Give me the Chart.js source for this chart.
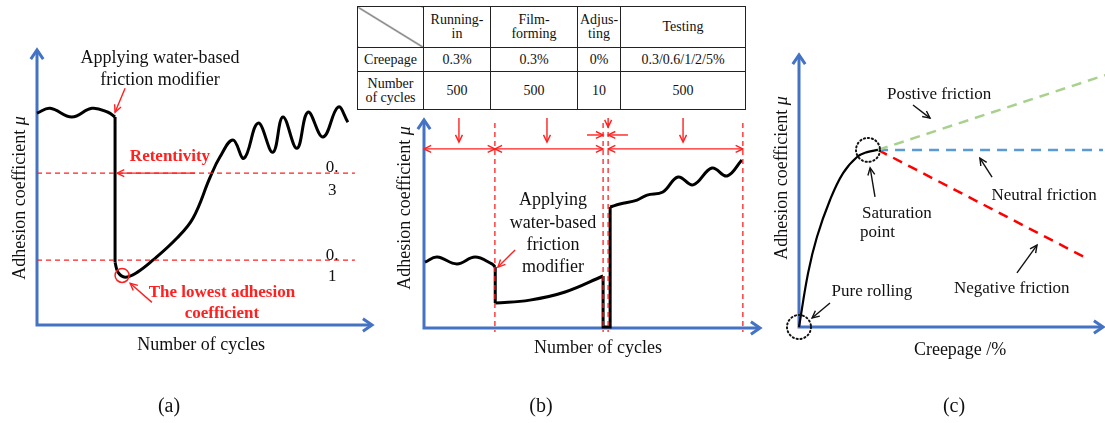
<!DOCTYPE html>
<html>
<head>
<meta charset="utf-8">
<script src="https://cdn.jsdelivr.net/npm/chart.js@4"></script>
<style>
  body { margin: 0; background: #fff; }
  #page { position: relative; width: 1105px; height: 423px; overflow: hidden; font-family: "Liberation Serif", serif; }
  canvas { position: absolute; top: 0; }
  #phaseTable { position: absolute; left: 357px; top: 6px; width: 388px; table-layout: fixed;
    border-collapse: collapse; z-index: 2; background: #fff; color: #111; }
  #phaseTable td { border: 1px solid #222; text-align: center; padding: 0; line-height: 14px;
    font-family: "Liberation Serif", serif; font-size: 14px; }
  #phaseTable td.diag { background: linear-gradient(to top right, transparent calc(50% - 0.9px), #222 50%, transparent calc(50% + 0.9px)); }
</style>
</head>
<body>
<div id="page">
  <canvas id="chartA" width="380" height="423" style="left:0"></canvas>
  <canvas id="chartB" width="385" height="423" style="left:380px"></canvas>
  <canvas id="chartC" width="340" height="423" style="left:765px"></canvas>
  <table id="phaseTable"></table>
</div>
<script>
// (a) adhesion coefficient over cycles, cut where the curve jumps straight down
const cyclesA1 = [0, 3.9, 10.4, 16.4, 21.2, 23.3];
const muA1 = [0.438, 0.449, 0.429, 0.449, 0.440, 0.429];
const cyclesA2 = [23.3, 23.3];
const muA2 = [0.429, 0.095];
const cyclesA3 = [23.3, 24.2, 26.3, 29.9, 34.6, 41.8, 46.6, 51.6, 54.6, 58.5, 61.8, 66.0, 70.4, 73.4, 77.6, 80.9, 85.4, 89.9, 92.8];
const muA3 = [0.095, 0.072, 0.061, 0.072, 0.100, 0.151, 0.197, 0.289, 0.337, 0.376, 0.334, 0.415, 0.348, 0.429, 0.357, 0.440, 0.383, 0.452, 0.417];
const refMu = [0.3, 0.1];

// (b) test procedure
const phaseNames = ['Running-in', 'Film-forming', 'Adjus-ting', 'Testing'];
const phaseCreepage = ['0.3%', '0.3%', '0%', '0.3/0.6/1/2/5%'];
const phaseCycles = [500, 500, 10, 500];
const phaseEdges = [0, 21.1, 53.3, 54.8, 94.9];
const runInX = [0.3, 3.9, 9.8, 15.2, 20.2, 21.2];
const runInY = [31.7, 34.1, 30.8, 34.1, 30.8, 29.3];
const drop1X = [21.2, 21.2];
const drop1Y = [29.3, 12.0];
const filmX = [21.2, 31.5, 42.0, 53.3];
const filmY = [12.0, 13.4, 17.3, 25.0];
const adjustX = [53.3, 53.3, 55.4, 55.4];
const adjustY = [25.0, 0.5, 0.5, 58.2];
const testX = [55.4, 58.3, 63.4, 66.4, 71.1, 75.6, 80.1, 85.7, 90.2, 94.6];
const testY = [58.2, 59.6, 61.5, 63.9, 65.4, 72.6, 68.8, 76.9, 73.1, 80.8];

// (c) adhesion vs creepage
const creepX = [0, 3.0, 5.9, 10.2, 14.5, 19.1, 22.4, 26.0];
const creepY = [0, 19.9, 33.1, 46.7, 56.6, 62.5, 64.3, 65.1];
const positiveX = [26.0, 100.7], positiveY = [65.1, 92.6];
const neutralX = [26.0, 100.0], neutralY = [65.1, 65.1];
const negativeX = [26.0, 95.1], negativeY = [65.1, 25.0];

const RED = '#FF2020';
const AXIS = '#4472C4';
const FONT = '"Liberation Serif", serif';

// table above (b)
const tbl = document.getElementById('phaseTable');
const colW = [66, 67, 87, 43, 125];
tbl.innerHTML =
  '<colgroup>' + colW.map(w => `<col style="width:${w}px">`).join('') + '</colgroup>' +
  '<tr style="height:41px"><td class="diag"></td>' + phaseNames.map(n => `<td>${n.replace('-', '-<br>')}</td>`).join('') + '</tr>' +
  '<tr style="height:24px"><td>Creepage</td>' + phaseCreepage.map(c => `<td>${c}</td>`).join('') + '</tr>' +
  '<tr style="height:38px"><td>Number<br>of cycles</td>' + phaseCycles.map(c => `<td>${c}</td>`).join('') + '</tr>';

// annotations, in data units of each chart
const notes = {
  chartA: {
    texts: [
      { x: 36.7, y: 0.564, t: 'Applying water-based', size: 18 },
      { x: 36.7, y: 0.514, t: 'friction modifier', size: 18 },
      { x: 39.7, y: 0.337, t: 'Retentivity', size: 17, bold: true, color: RED },
      { x: 88.1, y: 0.314, t: '0.', size: 17 },
      { x: 88.1, y: 0.261, t: '3', size: 17 },
      { x: 88.1, y: 0.111, t: '0.', size: 17 },
      { x: 88.1, y: 0.063, t: '1', size: 17 },
      { x: 55.2, y: 0.026, t: 'The lowest adhesion', size: 17, bold: true, color: RED },
      { x: 55.2, y: -0.022, t: 'coefficient', size: 17, bold: true, color: RED },
      { x: -5.1, y: 0.243, t: 'Adhesion coefficient μ', size: 18, rot: true },
      { x: 49.0, y: -0.095, t: 'Number of cycles', size: 18 },
      { x: 39.4, y: -0.238, t: '(a)', size: 20 }
    ],
    arrows: [
      { x1: 26.3, y1: 0.495, x2: 23.3, y2: 0.440, color: RED },
      { x1: 47.2, y1: 0.3, x2: 23.9, y2: 0.3, color: RED },
      { x1: 34.3, y1: 0.003, x2: 27.8, y2: 0.047, color: RED }
    ],
    rings: [{ x: 25.4, y: 0.065, r: 7, color: RED }]
  },
  chartB: {
    texts: [
      { x: 38.4, y: 61.5, t: 'Applying', size: 18 },
      { x: 38.4, y: 50.5, t: 'water-based', size: 18 },
      { x: 38.4, y: 39.9, t: 'friction', size: 18 },
      { x: 38.4, y: 29.3, t: 'modifier', size: 18 },
      { x: -5.7, y: 57.7, t: 'Adhesion coefficient μ', size: 18, rot: true },
      { x: 51.8, y: -9.6, t: 'Number of cycles', size: 18 },
      { x: 34.8, y: -38, t: '(b)', size: 20 }
    ],
    arrows: [
      { x1: 27.1, y1: 37.5, x2: 22.0, y2: 29.3, color: RED },
      { x1: 48.5, y1: 92.8, x2: 53.3, y2: 92.8, color: RED },
      { x1: 60.7, y1: 92.8, x2: 54.8, y2: 92.8, color: RED },
      { x1: 10.4, y1: 101, x2: 10.4, y2: 89.4, color: RED },
      { x1: 36.6, y1: 101, x2: 36.6, y2: 89.4, color: RED },
      { x1: 54.8, y1: 101, x2: 54.8, y2: 96.6, color: RED },
      { x1: 77.1, y1: 101, x2: 77.1, y2: 89.4, color: RED }
    ].concat([[0, 1], [1, 2], [3, 4]].map(p => ({
      x1: phaseEdges[p[0]], y1: 86.1, x2: phaseEdges[p[1]], y2: 86.1, color: RED, both: true
    }))),
    rings: []
  },
  chartC: {
    texts: [
      { x: 46.1, y: 85.3, t: 'Postive friction', size: 17 },
      { x: 32.2, y: 41.9, t: 'Saturation', size: 17 },
      { x: 20.1, y: 34.6, t: 'point', size: 17, align: 'left' },
      { x: 80.6, y: 48.5, t: 'Neutral friction', size: 17 },
      { x: 70.0, y: 14.3, t: 'Negative friction', size: 17 },
      { x: 24.0, y: 12.9, t: 'Pure rolling', size: 17 },
      { x: -5.6, y: 54.8, t: 'Adhesion coefficient μ', size: 18, rot: true },
      { x: 53.0, y: -8.5, t: 'Creepage /%', size: 18 },
      { x: 51.0, y: -29.4, t: '(c)', size: 20 }
    ],
    arrows: [
      { x1: 37.5, y1: 81.6, x2: 43.1, y2: 76.8, color: '#111' },
      { x1: 25.0, y1: 47.8, x2: 23.4, y2: 58.5, color: '#111' },
      { x1: 63.5, y1: 55.1, x2: 59.5, y2: 62.1, color: '#111' },
      { x1: 71.7, y1: 19.9, x2: 78.3, y2: 30.1, color: '#111' },
      { x1: 10.2, y1: 8.8, x2: 4.3, y2: 3.3, color: '#111' }
    ],
    rings: [
      { x: 0, y: 0, r: 12, color: '#111', dotted: true },
      { x: 22.7, y: 65.1, r: 12, color: '#111', dotted: true }
    ]
  }
};

function arrowHead(ctx, x1, y1, x2, y2, len, spread) {
  const a = Math.atan2(y2 - y1, x2 - x1);
  ctx.beginPath();
  ctx.moveTo(x2 - len * Math.cos(a - spread), y2 - len * Math.sin(a - spread));
  ctx.lineTo(x2, y2);
  ctx.lineTo(x2 - len * Math.cos(a + spread), y2 - len * Math.sin(a + spread));
  ctx.stroke();
}

function drawArrow(ctx, x1, y1, x2, y2, color, both) {
  ctx.save();
  ctx.strokeStyle = color;
  ctx.lineWidth = 1.4;
  ctx.beginPath();
  ctx.moveTo(x1, y1);
  ctx.lineTo(x2, y2);
  ctx.stroke();
  arrowHead(ctx, x1, y1, x2, y2, 8, 0.45);
  if (both) arrowHead(ctx, x2, y2, x1, y1, 8, 0.45);
  ctx.restore();
}

function drawText(ctx, n, px, py) {
  const base = (n.bold ? 'bold ' : '') + n.size + 'px ' + FONT;
  const ital = 'italic ' + base;
  // μ is set in italic, the rest upright
  const parts = n.t.split(/(μ)/).filter(s => s.length).map(s => ({ s, f: s === 'μ' ? ital : base }));
  let w = 0;
  parts.forEach(p => { ctx.font = p.f; p.w = ctx.measureText(p.s).width; w += p.w; });
  ctx.save();
  ctx.translate(px, py);
  if (n.rot) ctx.rotate(-Math.PI / 2);
  ctx.fillStyle = n.color || '#111';
  ctx.textBaseline = 'middle';
  ctx.textAlign = 'left';
  let cx = n.align === 'left' ? 0 : -w / 2;
  parts.forEach(p => { ctx.font = p.f; ctx.fillText(p.s, cx, 0); cx += p.w; });
  ctx.restore();
}

const sketchPlugin = {
  id: 'sketch',
  beforeDatasetsDraw(chart) {
    const { ctx, chartArea: a } = chart;
    ctx.save();
    ctx.strokeStyle = AXIS;
    ctx.lineWidth = 3;
    ctx.beginPath();
    ctx.moveTo(a.left, a.top + 1);
    ctx.lineTo(a.left, a.bottom);
    ctx.lineTo(a.right - 1, a.bottom);
    ctx.stroke();
    arrowHead(ctx, a.left, a.bottom, a.left, a.top, 11, 0.6);
    arrowHead(ctx, a.left, a.bottom, a.right, a.bottom, 11, 0.6);
    ctx.restore();
  },
  afterDatasetsDraw(chart) {
    const n = notes[chart.canvas.id];
    if (!n) return;
    const { ctx } = chart;
    const sx = chart.scales.x, sy = chart.scales.y;
    n.rings.forEach(r => {
      ctx.save();
      ctx.strokeStyle = r.color;
      ctx.lineWidth = r.dotted ? 2 : 1.5;
      if (r.dotted) { ctx.setLineDash([1.2, 2.8]); ctx.lineCap = 'round'; }
      ctx.beginPath();
      ctx.arc(sx.getPixelForValue(r.x), sy.getPixelForValue(r.y), r.r, 0, Math.PI * 2);
      ctx.stroke();
      ctx.restore();
    });
    n.arrows.forEach(ar => drawArrow(ctx,
      sx.getPixelForValue(ar.x1), sy.getPixelForValue(ar.y1),
      sx.getPixelForValue(ar.x2), sy.getPixelForValue(ar.y2), ar.color, ar.both));
    n.texts.forEach(t => drawText(ctx, t, sx.getPixelForValue(t.x), sy.getPixelForValue(t.y)));
  }
};

function lineSet(xs, ys, style) {
  return Object.assign({
    data: xs.map((x, i) => ({ x: x, y: ys[i] })),
    showLine: true, pointRadius: 0, borderColor: '#000', borderWidth: 3,
    tension: 0.4, clip: false, fill: false
  }, style || {});
}

function makeChart(id, datasets, pad, xr, yr) {
  return new Chart(document.getElementById(id), {
    type: 'scatter',
    data: { datasets: datasets },
    options: {
      responsive: false,
      animation: false,
      devicePixelRatio: 1,
      layout: { padding: pad },
      scales: {
        x: { type: 'linear', display: false, min: xr[0], max: xr[1] },
        y: { type: 'linear', display: false, min: yr[0], max: yr[1] }
      },
      plugins: { legend: { display: false }, tooltip: { enabled: false } }
    },
    plugins: [sketchPlugin]
  });
}

const dashRed = { borderColor: RED, borderWidth: 1.3, borderDash: [5, 4], tension: 0 };

makeChart('chartA', [
  ...refMu.map(m => lineSet([0, 94.9], [m, m], dashRed)),
  lineSet(cyclesA1, muA1),
  lineSet(cyclesA2, muA2, { tension: 0 }),
  lineSet(cyclesA3, muA3)
], { left: 37, right: 8, top: 50, bottom: 98 }, [0, 100], [-0.049, 0.583]);

makeChart('chartB', [
  ...phaseEdges.slice(1).map(e => lineSet([e, e], [98.6, -1.9], dashRed)),
  lineSet(runInX, runInY),
  lineSet(drop1X, drop1Y, { tension: 0 }),
  lineSet(filmX, filmY),
  lineSet(adjustX, adjustY, { tension: 0 }),
  lineSet(testX, testY)
], { left: 44, right: 5, top: 120, bottom: 95 }, [0, 100], [0, 100]);

makeChart('chartC', [
  lineSet(positiveX, positiveY, { borderColor: '#A9D18E', borderWidth: 2.5, borderDash: [10, 7], tension: 0 }),
  lineSet(neutralX, neutralY, { borderColor: '#5B9BD5', borderWidth: 2.5, borderDash: [10, 7], tension: 0 }),
  lineSet(negativeX, negativeY, { borderColor: '#FF0000', borderWidth: 2.5, borderDash: [10, 7], tension: 0 }),
  lineSet(creepX, creepY, { borderWidth: 2.2 })
], { left: 34, right: 2, top: 55, bottom: 96 }, [0, 100], [0, 100]);
</script>
</body>
</html>
